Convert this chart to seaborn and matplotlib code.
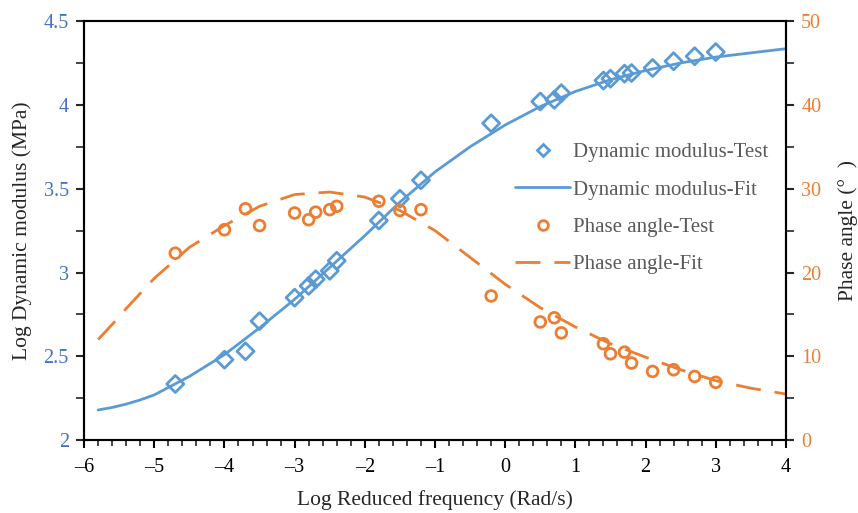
import matplotlib
matplotlib.use("Agg")
import matplotlib.pyplot as plt
from matplotlib.lines import Line2D
from matplotlib.ticker import MultipleLocator
import pandas as pd
import seaborn as sns

# Test points (log reduced frequency)
freq_test = [-4.7, -4.0, -3.7, -3.5, -3.0, -2.8, -2.7, -2.5, -2.4, -1.8, -1.5, -1.2,
             -0.2, 0.5, 0.7, 0.8, 1.4, 1.5, 1.7, 1.8, 2.1, 2.4, 2.7, 3.0]
modulus_test = [2.335, 2.48, 2.53, 2.71, 2.85, 2.92, 2.96, 3.01, 3.07, 3.31, 3.44, 3.55,
                3.89, 4.02, 4.03, 4.07, 4.145, 4.156, 4.186, 4.19, 4.22, 4.26, 4.29, 4.315]
phase_test = [22.3, 25.1, 27.6, 25.6, 27.1, 26.3, 27.2, 27.5, 27.9, 28.5, 27.4, 27.5,
              17.2, 14.1, 14.6, 12.8, 11.5, 10.3, 10.5, 9.2, 8.2, 8.4, 7.6, 6.9]

# Fit curves
freq_fit = [-5.8, -5.6, -5.4, -5.2, -5.0, -4.5, -4.0, -3.5, -3.0, -2.5, -2.0, -1.5, -1.0,
            -0.5, 0.0, 0.5, 1.0, 1.5, 2.0, 2.5, 3.0, 3.5, 4.0]
modulus_fit = [2.18, 2.195, 2.215, 2.24, 2.27, 2.38, 2.51, 2.67, 2.84, 3.03, 3.22, 3.42, 3.60,
               3.75, 3.88, 3.99, 4.08, 4.15, 4.205, 4.25, 4.285, 4.31, 4.335]
phase_fit = [12.0, 13.8, 15.7, 17.5, 19.3, 23.0, 25.6, 27.9, 29.3, 29.6, 29.0, 27.4, 25.0,
             21.8, 18.6, 15.8, 13.5, 11.5, 9.9, 8.4, 7.1, 6.2, 5.5]

test_df = pd.DataFrame({"freq": freq_test, "modulus": modulus_test, "phase": phase_test})
fit_df = pd.DataFrame({"freq": freq_fit, "modulus": modulus_fit, "phase": phase_fit})

blue = "#5B9BD5"
orange = "#ED7D31"
tick_blue = "#4472C4"
legend_grey = "#595959"

sns.set_style("white")
plt.rcParams["font.family"] = ["Liberation Serif", "DejaVu Serif"]

fig = plt.figure(figsize=(8.58, 5.13), dpi=100)
ax = fig.add_axes([0.098, 0.142, 0.818, 0.817])
ax2 = ax.twinx()

sns.lineplot(data=fit_df, x="freq", y="modulus", ax=ax, color=blue, linewidth=2)
sns.scatterplot(data=test_df, x="freq", y="modulus", ax=ax, marker="D", s=75,
                facecolor="none", edgecolor=blue, linewidth=2, zorder=3)
sns.lineplot(data=fit_df, x="freq", y="phase", ax=ax2, color=orange, linewidth=2)
ax2.lines[-1].set_dashes([9, 5])
sns.scatterplot(data=test_df, x="freq", y="phase", ax=ax2, marker="o", s=60,
                facecolor="none", edgecolor=orange, linewidth=2, zorder=3)

ax.set_xlim(-6, 4)
ax.set_ylim(2, 4.5)
ax2.set_ylim(0, 50)
ax.xaxis.set_major_locator(MultipleLocator(1))
ax.xaxis.set_minor_locator(MultipleLocator(0.2))
ax.yaxis.set_major_locator(MultipleLocator(0.5))
ax.yaxis.set_minor_locator(MultipleLocator(0.25))
ax2.yaxis.set_major_locator(MultipleLocator(10))
ax2.yaxis.set_minor_locator(MultipleLocator(5))
ax.xaxis.set_major_formatter(plt.FuncFormatter(lambda v, p: f"{v:g}".replace("-", "\u2013")))
ax.yaxis.set_major_formatter(plt.FuncFormatter(lambda v, p: f"{v:g}"))

for spine in list(ax.spines.values()) + list(ax2.spines.values()):
    spine.set_color("black")
    spine.set_linewidth(1.5)

ax.tick_params(axis="x", which="major", direction="out", length=6, width=1.5,
               labelsize=14.5, colors="black", pad=7, bottom=True)
ax.tick_params(axis="x", which="minor", direction="out", length=4, width=1.2, bottom=True)
ax.tick_params(axis="y", which="major", direction="out", length=6, width=1.5,
               labelsize=14.5, labelcolor=tick_blue, left=True, pad=5)
ax.tick_params(axis="y", which="minor", direction="out", length=6, width=1.2, left=True)
ax2.tick_params(axis="y", which="major", direction="out", length=6, width=1.5,
                labelsize=14.5, labelcolor=orange, right=True, pad=5)
ax2.tick_params(axis="y", which="minor", direction="out", length=6, width=1.2, right=True)

ax.set_xlabel("Log Reduced frequency (Rad/s)", fontsize=15.5, labelpad=9)
ax.set_ylabel("Log Dynamic modulus (MPa)", fontsize=15.5, labelpad=8)
ax2.set_ylabel("Phase angle (\u00b0  )", fontsize=15.5, labelpad=12)

handles = [
    Line2D([], [], linestyle="none", marker="D", markersize=6, markerfacecolor="none",
           markeredgecolor=blue, markeredgewidth=2),
    Line2D([], [], color=blue, linewidth=2),
    Line2D([], [], linestyle="none", marker="o", markersize=7, markerfacecolor="none",
           markeredgecolor=orange, markeredgewidth=2),
    Line2D([], [], color=orange, linewidth=2, dashes=[9, 5]),
]
labels = ["Dynamic modulus-Test", "Dynamic modulus-Fit", "Phase angle-Test", "Phase angle-Fit"]
leg = fig.legend(handles, labels, loc="upper left", bbox_to_anchor=(0.588, 0.742),
                 frameon=False, fontsize=15, handlelength=2.65, handletextpad=0.15,
                 labelspacing=0.85, borderpad=0)
for t in leg.get_texts():
    t.set_color(legend_grey)

fig.savefig("out.png", dpi=100)
